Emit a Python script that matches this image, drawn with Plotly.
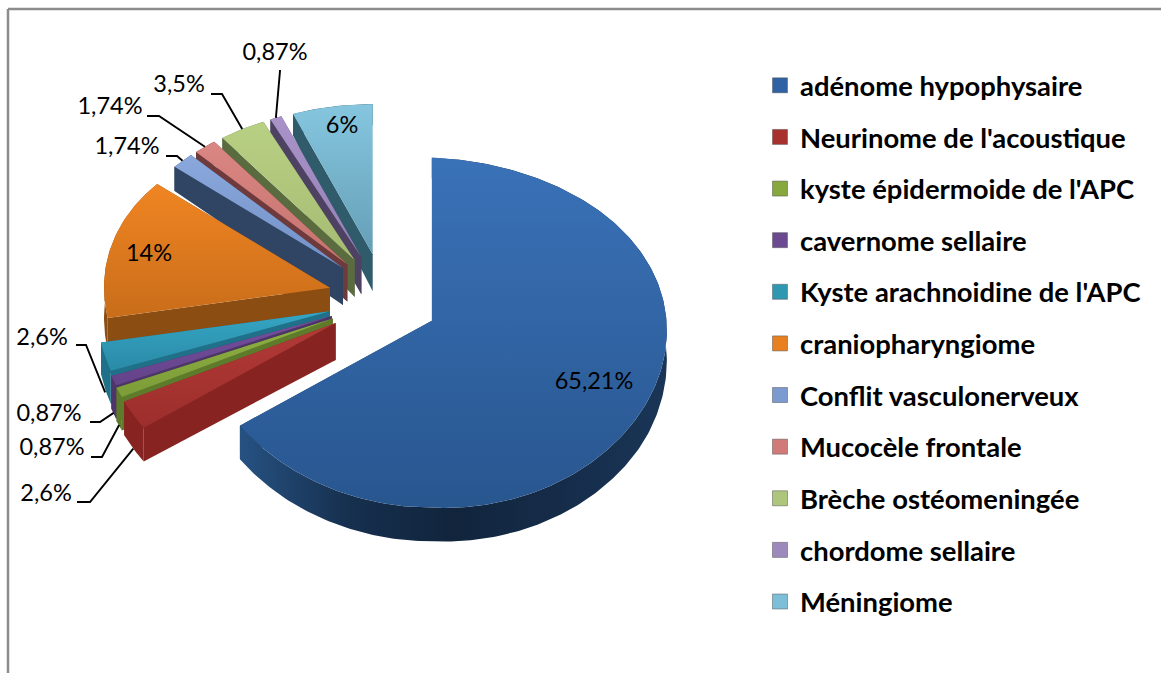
import math
import plotly.graph_objects as go

# ---------- data ----------
categories = ["adénome hypophysaire", "Neurinome de l'acoustique", "kyste épidermoide de l'APC",
              "cavernome sellaire", "Kyste arachnoidine de l'APC", "craniopharyngiome",
              "Conflit vasculonerveux", "Mucocèle frontale", "Brèche ostéomeningée",
              "chordome sellaire", "Méningiome"]
values = [65.21, 2.6, 0.87, 0.87, 2.6, 14, 1.74, 1.74, 3.5, 0.87, 6]
value_labels = ["65,21%", "2,6%", "0,87%", "0,87%", "2,6%", "14%", "1,74%", "1,74%", "3,5%", "0,87%", "6%"]

# ---------- style ----------
top_colors = [("#3a72b8", "#28568f"), ("#b23a37", "#9c2e2b"), ("#8fb143", "#7c9c38"), ("#76509f", "#64438a"),
              ("#35a6c4", "#2a8aa6"), ("#f08522", "#c96d1a"), ("#8aa8dc", "#7391c6"), ("#da8683", "#c67370"),
              ("#b8d084", "#a5bb72"), ("#a993c9", "#9580b5"), ("#85c6de", "#659fb7")]
side_colors = ["#1c3a5e", "#872422", "#5e7a2b", "#4d3569", "#1f7088", "#8c4d12",
               "#2f4563", "#6e3a3c", "#5a6b40", "#4e4263", "#2f5b6b"]
legend_colors = ["#2f62a4", "#a8302d", "#86a83c", "#6b4a91", "#2e98b3", "#e8801f",
                 "#7b9ad0", "#d07b78", "#aec67c", "#9e89bd", "#7dbfd8"]
FONT = "Lato"

# projection of the tilted, exploded pie onto the page
CX, CY = 383, 299.5           # pie centre
EXPL_X, EXPL_Y = 55, 46       # explosion
RX = 235                      # horizontal radius
RY_MID, RY_PERSP = 175, 12    # vertical radius and near/far difference
SKEW = 10                     # the right side sags a little in perspective
FAR_SHRINK = 0.0012           # slices pushed to the back look smaller


def rim(theta, apex):
    c = math.cos(theta)
    s = math.sin(theta)
    k = 1 - max(CY + 20.5 - apex[1], 0) * FAR_SHRINK
    return (apex[0] + k * RX * s,
            apex[1] + k * (-RY_MID * c + RY_PERSP * c * c + SKEW * max(s, 0)))


def depth(theta):
    return 30 - 9 * max(math.cos(theta), -0.4)


APEX_DEPTH = 37

total = sum(values)
slices = []
acc = 0
for v in values:
    t0 = acc / total * 2 * math.pi
    acc += v
    t1 = acc / total * 2 * math.pi
    tm = (t0 + t1) / 2
    apex = (CX + EXPL_X * math.sin(tm), CY - EXPL_Y * math.cos(tm))
    slices.append((t0, t1, tm, apex))

fig = go.Figure()


def poly(xs, ys, **kw):
    fig.add_trace(go.Scatter(x=xs, y=ys, mode="lines", fill="toself", line=dict(width=0),
                             showlegend=False, hoverinfo="skip", **kw))


draw_order = [10, 9, 8, 7, 6, 5, 4, 3, 2, 1, 0]
for i in draw_order:
    t0, t1, tm, apex = slices[i]
    n = max(6, int((t1 - t0) * 60))
    ts = [t0 + (t1 - t0) * k / n for k in range(n + 1)]
    pts = [rim(t, apex) for t in ts]
    xs = [p[0] for p in pts]
    ys = [p[1] for p in pts]
    ds = [depth(t) for t in ts]
    side = side_colors[i]
    for j in (0, -1):
        poly([apex[0], xs[j], xs[j], apex[0]],
             [apex[1], ys[j], ys[j] + ds[j], apex[1] + APEX_DEPTH], fillcolor=side)
    if i == 0:
        grad = dict(type="horizontal", colorscale=[[0, "#265282"], [0.25, "#16304f"], [0.5, "#11243c"], [1, "#1a3557"]])
        poly(xs + xs[::-1], ys + [y + d for y, d in zip(ys[::-1], ds[::-1])], fillgradient=grad)
    else:
        poly(xs + xs[::-1], ys + [y + d for y, d in zip(ys[::-1], ds[::-1])], fillcolor=side)
    # a vertical gradient runs from the bottom of the shape (0) to its top (1)
    grad = dict(type="vertical", colorscale=[[0, top_colors[i][1]], [1, top_colors[i][0]]])
    poly([apex[0]] + xs + [apex[0]], [apex[1]] + ys + [apex[1]], fillgradient=grad)

# ---------- leader lines and data labels ----------
label_pos = [(594, 383), (46, 495), (52, 449), (49, 415), (42, 339), (149, 255),
             (127, 148), (110, 108), (179, 86), (275, 54), (342, 127)]
leader_elbows = [None, [(77, 502), (90, 502)], [(91, 457), (102, 457)], [(90, 422), (100, 422)],
                 [(76, 345), (86, 345)], None, [(166, 156), (177, 156)], [(147, 116), (159, 116)],
                 [(211, 94), (222, 94)], [(280, 70), (280, 71)], None]
leader_ends = [None, 1.0, 0.97, 0.97, 1.1, None, 0, 0, 0, 0, None]

for i, el in enumerate(leader_elbows):
    if el is None:
        continue
    t0, t1, tm, apex = slices[i]
    ex, ey = rim(tm, apex)
    ey += leader_ends[i] * depth(tm)
    fig.add_trace(go.Scatter(x=[p[0] for p in el] + [ex], y=[p[1] for p in el] + [ey], mode="lines",
                             line=dict(color="#000000", width=1.9), showlegend=False, hoverinfo="skip"))

fig.add_trace(go.Scatter(x=[p[0] for p in label_pos], y=[p[1] for p in label_pos], mode="text",
                         text=value_labels, textposition="middle center",
                         textfont=dict(family=FONT, size=23.5, color="#000000"),
                         showlegend=False, hoverinfo="skip"))

# ---------- legend ----------
for i, name in enumerate(categories):
    fig.add_trace(go.Scatter(x=[None], y=[None], mode="markers", name=name, legendgroup=name,
                             marker=dict(symbol="square", size=15, color=legend_colors[i],
                                         line=dict(color="#555555", width=0.5))))

fig.update_layout(
    width=1161, height=673, margin=dict(l=0, r=0, t=0, b=0),
    paper_bgcolor="#ffffff", plot_bgcolor="#ffffff",
    xaxis=dict(range=[0, 1161], visible=False, fixedrange=True),
    yaxis=dict(range=[673, 0], visible=False, fixedrange=True),
    legend=dict(x=760 / 1161, y=1 - 61 / 673, xanchor="left", yanchor="top",
                font=dict(family=FONT, size=27.4, color="#000000", weight="bold"),
                tracegroupgap=13, bgcolor="rgba(0,0,0,0)", itemclick=False, itemdoubleclick=False),
    shapes=[
        dict(type="line", xref="paper", yref="paper", x0=8 / 1161, x1=1, y0=1 - 9 / 673, y1=1 - 9 / 673,
             line=dict(color="#8c8c8c", width=2.5)),
        dict(type="line", xref="paper", yref="paper", x0=8 / 1161, x1=8 / 1161, y0=1 - 9 / 673, y1=0,
             line=dict(color="#8c8c8c", width=2.5)),
    ],
)

fig.write_html("out.html", config={"displayModeBar": False}, post_script="document.body.style.margin='0';")
